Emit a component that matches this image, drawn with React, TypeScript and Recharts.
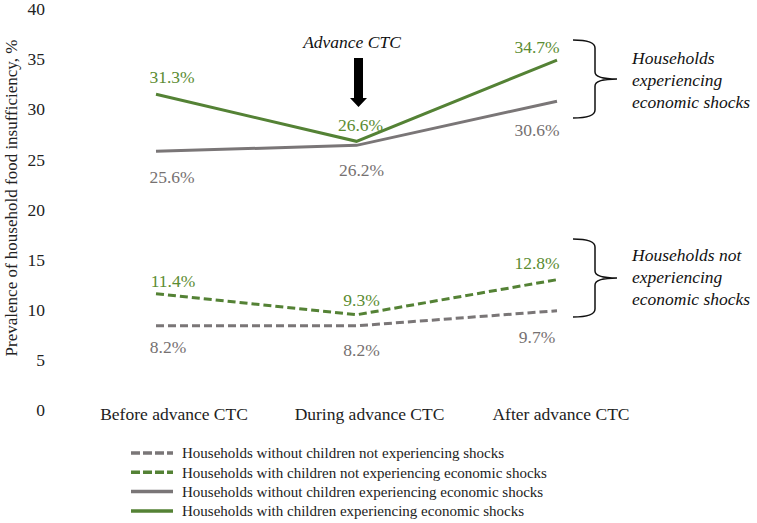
import React from "react";
import { LineChart, Line, XAxis, YAxis, Customized } from "recharts";

// ---------------------------------------------------------------------------
// Food insufficiency before / during / after the advance CTC payments,
// split by children in household and economic-shock status.
// ---------------------------------------------------------------------------

const categories = ["Before advance CTC", "During advance CTC", "After advance CTC"];

const withoutChildrenNoShock = [8.2, 8.2, 9.7];
const withChildrenNoShock = [11.4, 9.3, 12.8];
const withoutChildrenShock = [25.6, 26.2, 30.6];
const withChildrenShock = [31.3, 26.6, 34.7];

const yTicks = [0, 5, 10, 15, 20, 25, 30, 35, 40];

const GREEN = "#548235";
const GREEN_TEXT = "#5b8c32";
const GRAY = "#7a7677";
const GRAY_TEXT = "#767171";
const FONT = "Liberation Serif, DejaVu Serif, serif";
const serif = { fontFamily: FONT };
const BIG = 17.5; // 18px renders unhinted; 17.5 keeps the crisp serif look

// category labels sit a little right of their points in the original
const xLabelShift = [18, 13, 4];

const data = categories.map((name, i) => ({
  name,
  wcNo: withoutChildrenNoShock[i],
  cNo: withChildrenNoShock[i],
  wcSh: withoutChildrenShock[i],
  cSh: withChildrenShock[i],
}));

// legend / series config, top-to-bottom legend order
const series = [
  { key: "wcNo", label: "Households without children not experiencing shocks", color: GRAY, text: GRAY_TEXT, dash: "8 4", dx: [12, 5, -20], dy: [21, 24, 26] },
  { key: "cNo", label: "Households with children not experiencing economic shocks", color: GREEN, text: GREEN_TEXT, dash: "8 4", dx: [17, 5, -20], dy: [-13, -15, -17] },
  { key: "wcSh", label: "Households without children experiencing economic shocks", color: GRAY, text: GRAY_TEXT, dash: undefined, dx: [16, 5, -20], dy: [26, 25, 29] },
  { key: "cSh", label: "Households with children experiencing economic shocks", color: GREEN, text: GREEN_TEXT, dash: undefined, dx: [16, 4, -20], dy: [-17, -16, -13] },
];

function makeLabel(s: (typeof series)[number]) {
  return (props: any) => {
    const { x, y, value, index } = props;
    return (
      <text
        x={x + s.dx[index]}
        y={y + s.dy[index]}
        dy="0.35em"
        textAnchor="middle"
        fill={s.text}
        fontSize={BIG}
        style={serif}
      >
        {`${Number(value).toFixed(1)}%`}
      </text>
    );
  };
}

function XTick({ x, y, payload, index }: any) {
  return (
    <text
      x={x + (xLabelShift[index] ?? 0)}
      y={y + 6}
      dy="0.35em"
      textAnchor="middle"
      fill="#222"
      fontSize={BIG}
      style={serif}
    >
      {payload.value}
    </text>
  );
}

function YTick({ x, y, payload }: any) {
  return (
    <text x={x} y={y + 2} dy="0.35em" textAnchor="end" fill="#222" fontSize={BIG} style={serif}>
      {payload.value}
    </text>
  );
}

function brace(x0: number, xv: number, tip: number, top: number, bottom: number) {
  const mid = (top + bottom) / 2;
  return `M${x0},${top} Q${xv},${top} ${xv},${top + 8} L${xv},${mid - 7} Q${xv},${mid} ${tip},${mid} Q${xv},${mid} ${xv},${mid + 7} L${xv},${bottom - 8} Q${xv},${bottom} ${x0},${bottom}`;
}

function Annotations() {
  const italic = { fontSize: BIG, style: { fontFamily: FONT, fontStyle: "italic" as const }, fill: "#111" };
  return (
    <g>
      {/* y-axis title */}
      <text
        transform="translate(11,198) rotate(-90)"
        textAnchor="middle"
        dy="0.35em"
        fontSize={17}
        style={serif}
        fill="#222"
      >
        Prevalence of household food insufficiency, %
      </text>

      {/* advance CTC marker */}
      <text x={352} y={42} dy="0.35em" textAnchor="middle" {...italic}>
        Advance CTC
      </text>
      <path d="M354,58 L363,58 L363,98 L367,98 L358.5,107 L350,98 L354,98 Z" fill="#000" />

      {/* group braces */}
      <path d={brace(573, 595, 617, 40, 118)} fill="none" stroke="#111" strokeWidth={1.5} />
      <path d={brace(573, 595, 617, 239, 317)} fill="none" stroke="#111" strokeWidth={1.5} />
      {["Households", "experiencing", "economic shocks"].map((t, i) => (
        <text key={t} x={632} y={58 + i * 22} dy="0.35em" {...italic}>
          {t}
        </text>
      ))}
      {["Households not", "experiencing", "economic shocks"].map((t, i) => (
        <text key={t} x={632} y={255 + i * 22} dy="0.35em" {...italic}>
          {t}
        </text>
      ))}

      {/* legend */}
      {series.map((s, i) => {
        const ly = 453 + i * 19.3;
        return (
          <g key={s.key}>
            <line
              x1={131}
              x2={173}
              y1={ly}
              y2={ly}
              stroke={s.color}
              strokeWidth={3.5}
              strokeDasharray={s.dash ? "9 3" : undefined}
            />
            <text x={182} y={ly} dy="0.35em" fontSize={15} style={serif} fill="#222">
              {s.label}
            </text>
          </g>
        );
      })}
    </g>
  );
}

export default function App() {
  return (
    <div style={{ position: "absolute", left: 0, top: 0, width: 757, height: 523, background: "#fff", fontFamily: FONT }}>
      <LineChart
        width={757}
        height={523}
        data={data}
        margin={{ top: 7, right: 100, bottom: 85, left: 0 }}
        style={serif}
      >
        <XAxis
          dataKey="name"
          height={30}
          axisLine={false}
          tickLine={false}
          tickSize={0}
          tickMargin={0}
          padding={{ left: 100, right: 100 }}
          tick={<XTick />}
          interval={0}
        />
        <YAxis
          width={56}
          domain={[0, 40]}
          ticks={yTicks}
          axisLine={false}
          tickLine={false}
          tickSize={0}
          tickMargin={11}
          tick={<YTick />}
          interval={0}
        />
        {series.map((s) => (
          <Line
            key={s.key}
            type="linear"
            dataKey={s.key}
            stroke={s.color}
            strokeWidth={3}
            strokeDasharray={s.dash}
            dot={false}
            activeDot={false}
            label={makeLabel(s)}
            isAnimationActive={false}
          />
        ))}
        <Customized component={<Annotations />} />
      </LineChart>
    </div>
  );
}
